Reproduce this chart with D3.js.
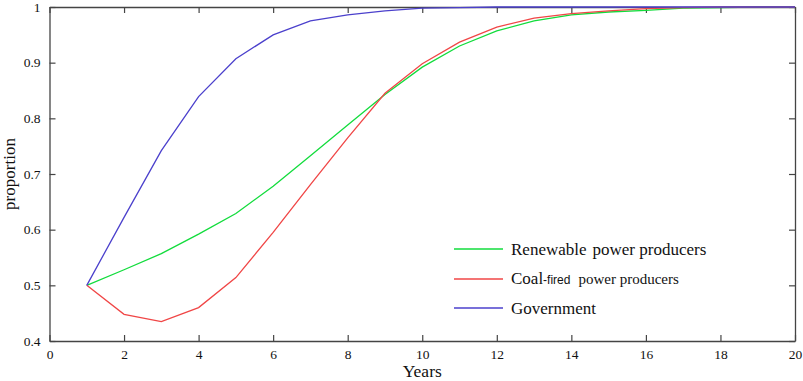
<!DOCTYPE html>
<html>
<head>
<meta charset="utf-8">
<script src="https://cdn.jsdelivr.net/npm/d3@7"></script>
<style>
  html, body { margin: 0; padding: 0; background: #fff; }
  svg { display: block; font-family: "Liberation Serif", "Times New Roman", serif; }
</style>
</head>
<body>
<div id="chart"></div>
<script>
// ---- data ----
const years = [1, 2, 3, 4, 5, 6, 7, 8, 9, 10, 11, 12, 13, 14, 15, 16, 17, 18, 19, 20];
const renewable = [0.5, 0.528, 0.557, 0.592, 0.629, 0.678, 0.733, 0.788, 0.843, 0.892, 0.930, 0.957, 0.975, 0.986, 0.991, 0.994, 0.998, 0.999, 1, 1];
const coalFired = [0.5, 0.448, 0.435, 0.460, 0.514, 0.595, 0.681, 0.765, 0.845, 0.898, 0.937, 0.964, 0.980, 0.988, 0.993, 0.997, 0.999, 1, 1, 1];
const government = [0.5, 0.622, 0.742, 0.839, 0.907, 0.950, 0.975, 0.986, 0.993, 0.998, 0.999, 1, 1, 1, 1, 1, 1, 1, 1, 1];
const xTicks = [0, 2, 4, 6, 8, 10, 12, 14, 16, 18, 20];
const yTicks = [0.4, 0.5, 0.6, 0.7, 0.8, 0.9, 1];

const series = [
  { name: "Renewable", values: renewable, color: "#12dc3c" },
  { name: "Coal-fired", values: coalFired, color: "#f04646" },
  { name: "Government", values: government, color: "#4b40cc" }
];

const width = 803, height = 381;
const plot = { left: 49.5, right: 795, top: 7, bottom: 341 };

const svg = d3.select("#chart").append("svg")
  .attr("width", width)
  .attr("height", height);

const x = d3.scaleLinear().domain([0, 20]).range([plot.left, plot.right]);
const y = d3.scaleLinear().domain([0.4, 1]).range([plot.bottom, plot.top]);
const fmt = d3.format("~g");
const axisColor = "#444";

// ---- axes, ticks point inward (MATLAB-like box) ----
function styleAxis(g) {
  g.attr("font-family", null);
  g.selectAll("path.domain").attr("stroke", axisColor).attr("stroke-width", 1.3);
  g.selectAll(".tick line").attr("stroke", axisColor).attr("stroke-width", 1.2);
  g.selectAll(".tick text").attr("fill", "#111")
    .style("font-family", "'Liberation Serif', serif").style("font-size", "13.5px");
}

svg.append("g")
  .attr("transform", `translate(0,${plot.bottom})`)
  .call(d3.axisBottom(x).tickValues(xTicks).tickFormat(fmt).tickSizeInner(-6).tickSizeOuter(0).tickPadding(8))
  .call(styleAxis);

svg.append("g")
  .attr("transform", `translate(0,${plot.top})`)
  .call(d3.axisTop(x).tickValues(xTicks).tickFormat("").tickSizeInner(-6).tickSizeOuter(0))
  .call(styleAxis);

svg.append("g")
  .attr("transform", `translate(${plot.left},0)`)
  .call(d3.axisLeft(y).tickValues(yTicks).tickFormat(fmt).tickSizeInner(-6).tickSizeOuter(0).tickPadding(9))
  .call(styleAxis);

svg.append("g")
  .attr("transform", `translate(${plot.right},0)`)
  .call(d3.axisRight(y).tickValues(yTicks).tickFormat("").tickSizeInner(-6).tickSizeOuter(0))
  .call(styleAxis);

// ---- axis titles ----
svg.append("text")
  .attr("x", (plot.left + plot.right) / 2)
  .attr("y", 377)
  .attr("text-anchor", "middle")
  .style("font-size", "17.5px")
  .attr("fill", "#111")
  .text("Years");

svg.append("text")
  .attr("transform", `translate(15,${(plot.top + plot.bottom) / 2}) rotate(-90)`)
  .attr("text-anchor", "middle")
  .style("font-size", "17px")
  .attr("fill", "#111")
  .text("proportion");

// ---- lines ----
const line = d3.line()
  .x((d, i) => x(years[i]))
  .y(d => y(d));

series.forEach(s => {
  svg.append("path")
    .datum(s.values)
    .attr("fill", "none")
    .attr("stroke", s.color)
    .attr("stroke-width", 1.3)
    .attr("d", line);
});

// ---- legend ----
const legendY = [249, 279, 308];
const legend = svg.append("g");
series.forEach((s, i) => {
  legend.append("line")
    .attr("x1", 454).attr("x2", 503)
    .attr("y1", legendY[i]).attr("y2", legendY[i])
    .attr("stroke", s.color)
    .attr("stroke-width", 1.3);
});

legend.append("text")
  .attr("x", 511).attr("y", legendY[0] + 6)
  .attr("fill", "#111")
  .call(t => {
    t.append("tspan").style("font-size", "17px").text("Renewable");
    t.append("tspan").attr("dx", 6).style("font-size", "17px").text("power producers");
  });

legend.append("text")
  .attr("x", 511).attr("y", legendY[1] + 5)
  .attr("fill", "#111")
  .call(t => {
    t.append("tspan").style("font-size", "17px").text("Coal");
    t.append("tspan").style("font-size", "12px")
      .style("font-family", "'Liberation Sans', Arial, sans-serif").text("-fired");
    t.append("tspan").attr("dx", 8).style("font-size", "15px").text("power producers");
  });

legend.append("text")
  .attr("x", 511).attr("y", legendY[2] + 6)
  .attr("fill", "#111")
  .style("font-size", "17px")
  .text("Government");
</script>
</body>
</html>
